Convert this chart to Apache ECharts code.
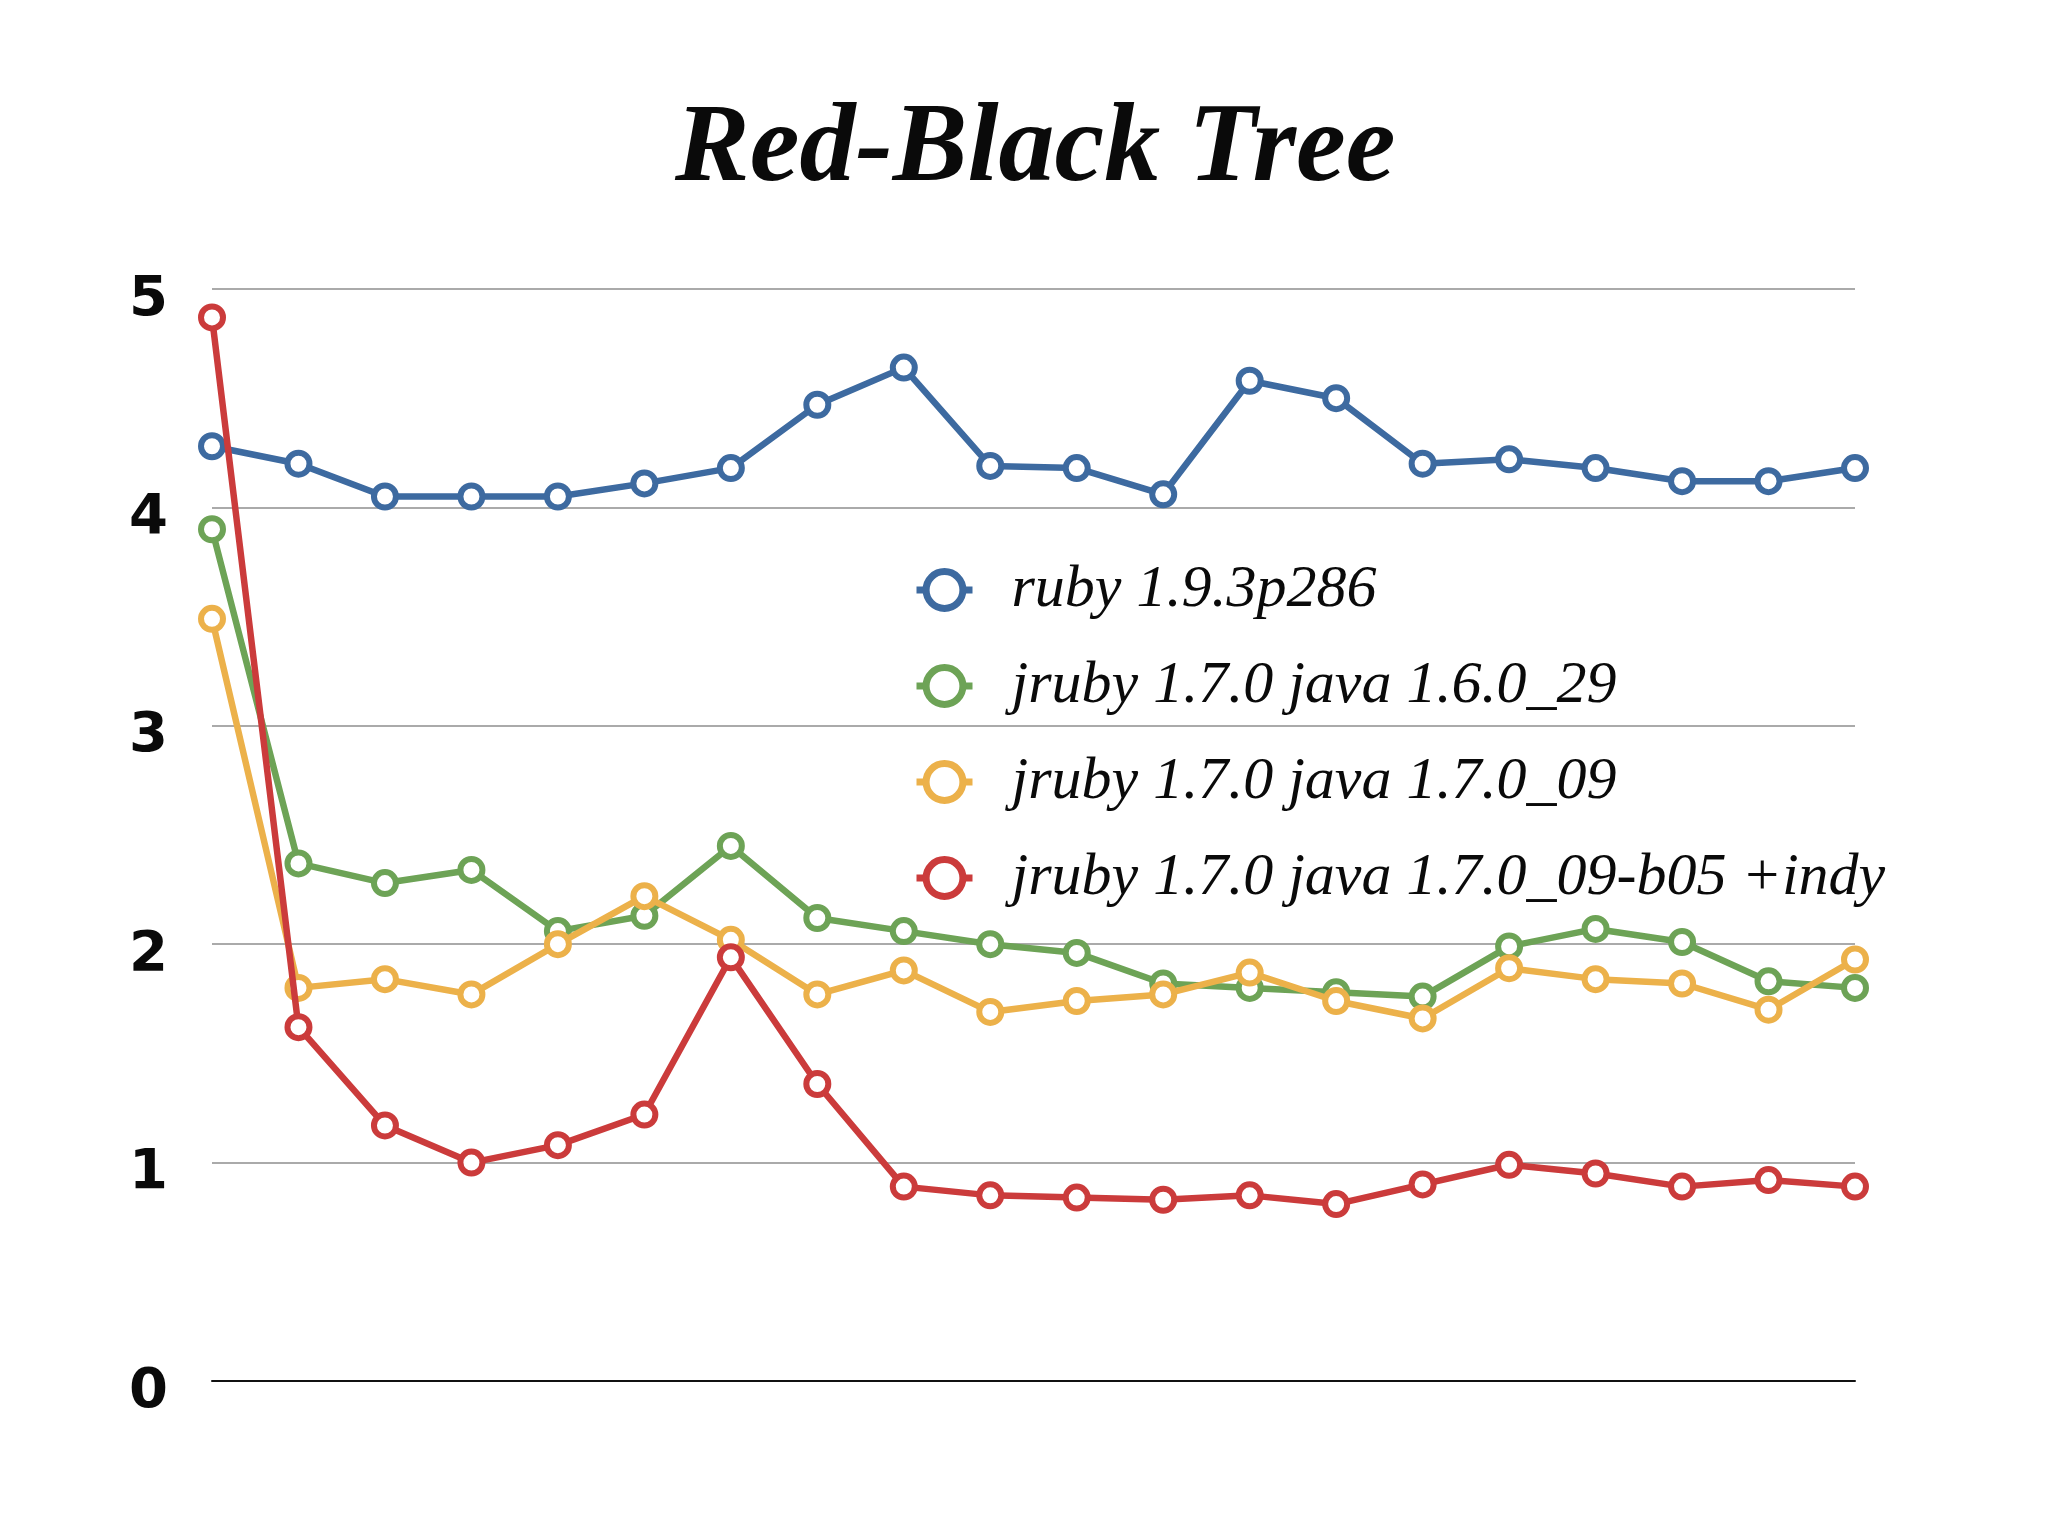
<!DOCTYPE html>
<html>
<head>
<meta charset="utf-8">
<script src="https://cdn.jsdelivr.net/npm/echarts@6/dist/echarts.min.js"></script>
<style>
html,body{margin:0;padding:0;background:#fff;}
#chart{width:2048px;height:1536px;}
</style>
</head>
<body>
<div id="chart"></div>
<script>
const titleText = 'Red-Black Tree';
const categories = ['1','2','3','4','5','6','7','8','9','10','11','12','13','14','15','16','17','18','19','20'];
const seriesNames = ['ruby 1.9.3p286', 'jruby 1.7.0 java 1.6.0_29', 'jruby 1.7.0 java 1.7.0_09', 'jruby 1.7.0 java 1.7.0_09-b05 +indy'];
const ruby193 = [4.28, 4.20, 4.05, 4.05, 4.05, 4.11, 4.18, 4.47, 4.64, 4.19, 4.18, 4.06, 4.58, 4.50, 4.20, 4.22, 4.18, 4.12, 4.12, 4.18];
const jruby16 = [3.90, 2.37, 2.28, 2.34, 2.06, 2.13, 2.45, 2.12, 2.06, 2.00, 1.96, 1.82, 1.80, 1.78, 1.76, 1.99, 2.07, 2.01, 1.83, 1.80];
const jruby17 = [3.49, 1.80, 1.84, 1.77, 2.00, 2.22, 2.02, 1.77, 1.88, 1.69, 1.74, 1.77, 1.87, 1.74, 1.66, 1.89, 1.84, 1.82, 1.70, 1.93];
const jrubyIndy = [4.87, 1.62, 1.17, 1.00, 1.08, 1.22, 1.94, 1.36, 0.89, 0.85, 0.84, 0.83, 0.85, 0.81, 0.90, 0.99, 0.95, 0.89, 0.92, 0.89];
const yTicks = [0, 1, 2, 3, 4, 5];
const colors = ['#3D6AA0', '#6DA356', '#ECB14A', '#CB3B3B'];
const allData = [ruby193, jruby16, jruby17, jrubyIndy];

const chart = echarts.init(document.getElementById('chart'));
chart.setOption({
  animation: false,
  backgroundColor: '#ffffff',
  title: {
    text: titleText,
    left: 670,
    top: 90,
    textStyle: {
      fontFamily: 'Liberation Serif',
      fontStyle: 'italic',
      fontWeight: 'bold',
      fontSize: 112,
      color: '#0a0a0a'
    }
  },
  legend: {
    orient: 'vertical',
    left: 908,
    top: 554,
    itemWidth: 56,
    itemHeight: 46,
    itemGap: 34,
    data: seriesNames,
    itemStyle: { borderWidth: 7 },
    lineStyle: { width: 7 },
    textStyle: {
      fontFamily: 'Liberation Serif',
      fontStyle: 'italic',
      fontSize: 60,
      lineHeight: 62,
      color: '#0a0a0a',
      padding: [0, 0, 0, 34]
    }
  },
  grid: { left: 212, right: 193, top: 289, bottom: 155, containLabel: false },
  xAxis: {
    type: 'category',
    data: categories,
    boundaryGap: false,
    axisLine: { show: true, lineStyle: { color: '#111', width: 2 } },
    axisTick: { show: false },
    axisLabel: { show: false },
    splitLine: { show: false }
  },
  yAxis: {
    type: 'value',
    min: yTicks[0],
    max: yTicks[yTicks.length - 1],
    interval: 1,
    axisLine: { show: false },
    axisTick: { show: false },
    axisLabel: {
      margin: 44,
      formatter: function (v) { return '{t|' + v + '}'; },
      rich: {
        t: {
          fontFamily: 'DejaVu Sans',
          fontWeight: 'bold',
          fontSize: 56,
          color: '#0a0a0a',
          padding: [22, 0, 0, 0]
        }
      }
    },
    splitLine: { lineStyle: { color: '#aaaaaa', width: 2 } }
  },
  series: seriesNames.map((name, i) => ({
    name: name,
    type: 'line',
    data: allData[i],
    symbol: 'circle',
    symbolSize: 22,
    itemStyle: { color: '#ffffff', borderColor: colors[i], borderWidth: 6 },
    lineStyle: { color: colors[i], width: 6.5 },
    emphasis: { disabled: true },
    z: 2 + i
  }))
});
</script>
</body>
</html>
